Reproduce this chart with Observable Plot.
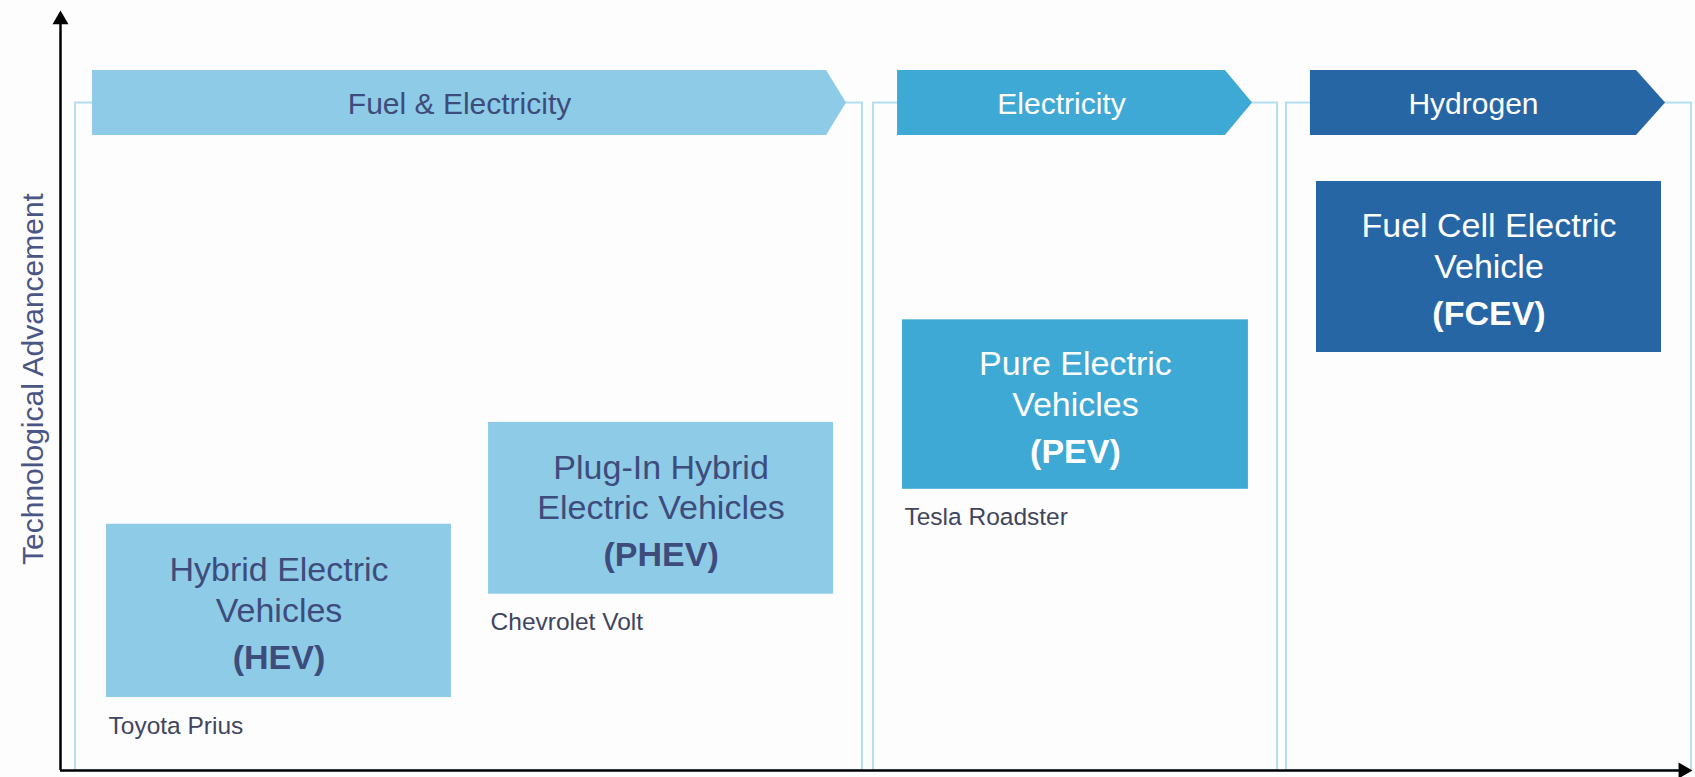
<!DOCTYPE html>
<html>
<head>
<meta charset="utf-8">
<script src="https://cdn.jsdelivr.net/npm/d3@7"></script>
<script src="https://cdn.jsdelivr.net/npm/@observablehq/plot@0.6"></script>
<style>
html, body { margin: 0; padding: 0; background: #fdfdfd; overflow: hidden; }
#chart svg { display: block; }
</style>
</head>
<body>
<div id="chart"></div>
<script>
// ---------- data (abstract units: stage 0–100 horizontally, advancement 0–100 vertically) ----------
const families = ["Fuel & Electricity", "Electricity", "Hydrogen"];
const familyStageStart = [1.96, 51.29, 76.59];
const familyStageEnd = [46.94, 71.38, 96.57];
const familyStageTip = [48.16, 73.04, 98.35];
const familyPanelStart = [0.92, 49.82, 75.12];
const familyPanelEnd = [49.14, 74.57, 99.94];
const familyBandLow = 83.55;
const familyBandHigh = 92.1;

const vehicleNames = ["Hybrid Electric\nVehicles", "Plug-In Hybrid\nElectric Vehicles", "Pure Electric\nVehicles", "Fuel Cell Electric\nVehicle"];
const vehicleCodes = ["(HEV)", "(PHEV)", "(PEV)", "(FCEV)"];
const vehicleFamily = [0, 0, 1, 2];
const vehicleExamples = ["Toyota Prius", "Chevrolet Volt", "Tesla Roadster", ""];
const vehicleStageStart = [2.82, 26.23, 51.59, 76.96];
const vehicleStageEnd = [23.96, 47.37, 72.79, 98.1];
const vehicleAdvLow = [9.6, 23.2, 37.0, 55.0];
const vehicleAdvHigh = [32.4, 45.8, 59.3, 77.5];

const axisLabelY = "Technological Advancement";

// ---------- styles ----------
const familyFill = ["#8ecbe6", "#3fa9d6", "#2766a5"];
const familyInk = ["#3e4c7c", "#ffffff", "#ffffff"];
const panelStroke = "#b3def2";
const exampleInk = "#3f4560";
const labelInk = "#4a5684";
const FONT = "'Liberation Sans', Arial, Helvetica, sans-serif";

// ---------- derived tables ----------
const bandMid = (familyBandLow + familyBandHigh) / 2;
const bandPoints = families.flatMap((f, i) => [
  {family: f, i, x: familyStageStart[i], y1: familyBandLow, y2: familyBandHigh},
  {family: f, i, x: familyStageEnd[i], y1: familyBandLow, y2: familyBandHigh},
  {family: f, i, x: familyStageTip[i], y1: bandMid, y2: bandMid}
]);
const familyRows = families.map((f, i) => ({
  family: f, i,
  x: (familyStageStart[i] + familyStageEnd[i]) / 2,
  y: bandMid,
  px1: familyPanelStart[i], px2: familyPanelEnd[i],
  py1: 0, py2: bandMid
}));
const vehicles = vehicleNames.map((n, i) => ({
  name: n, code: vehicleCodes[i], fam: vehicleFamily[i], example: vehicleExamples[i],
  x1: vehicleStageStart[i], x2: vehicleStageEnd[i],
  y1: vehicleAdvLow[i], y2: vehicleAdvHigh[i]
}));
const axisHeads = [
  {x: 0, y: 98.8, rotate: 0},
  {x: 99.43, y: 0, rotate: 90}
];

const chart = Plot.plot({
  width: 1695,
  height: 777,
  marginLeft: 60,
  marginRight: 3,
  marginTop: 10,
  marginBottom: 7,
  x: {domain: [0, 100], axis: null},
  y: {domain: [0, 100], axis: null},
  color: {type: "identity"},
  style: {background: "#fdfdfd", fontFamily: FONT},
  marks: [
    // panels
    Plot.rect(familyRows, {x1: "px1", x2: "px2", y1: "py1", y2: "py2", fill: "none", stroke: panelStroke, strokeWidth: 2}),
    // header arrows
    Plot.areaY(bandPoints, {x: "x", y1: "y1", y2: "y2", z: "family", fill: d => familyFill[d.i], curve: "linear"}),
    Plot.text(familyRows, {x: "x", y: "y", text: "family", fill: d => familyInk[d.i], fontSize: 30, lineAnchor: "middle", dy: 1}),
    // vehicle boxes
    Plot.rect(vehicles, {x1: "x1", x2: "x2", y1: "y1", y2: "y2", fill: d => familyFill[d.fam]}),
    Plot.text(vehicles, {x: d => (d.x1 + d.x2) / 2, y: d => (d.y1 + d.y2) / 2, text: "name", fill: d => familyInk[d.fam], fontSize: 34, lineHeight: 1.2, lineAnchor: "bottom", dy: 11}),
    Plot.text(vehicles, {x: d => (d.x1 + d.x2) / 2, y: d => (d.y1 + d.y2) / 2, text: "code", fill: d => familyInk[d.fam], fontSize: 34, fontWeight: "bold", lineAnchor: "bottom", dy: 58}),
    Plot.text(vehicles.filter(d => d.example), {x: "x1", y: "y1", text: "example", fill: exampleInk, fontSize: 24.5, textAnchor: "start", lineAnchor: "bottom", dx: 2, dy: 36}),
    // axes
    Plot.ruleX([0], {y1: 0, y2: 98.5, stroke: "#000", strokeWidth: 2.5}),
    Plot.ruleY([0], {x1: 0, x2: 99.2, stroke: "#000", strokeWidth: 2.5}),
    Plot.dot(axisHeads, {x: "x", y: "y", rotate: "rotate", symbol: "triangle", r: 5.94, fill: "#000", stroke: "none"}),
    Plot.text([axisLabelY], {frameAnchor: "left", text: d => d, rotate: -90, fontSize: 30, fill: labelInk, textAnchor: "middle", lineAnchor: "middle", dx: -27.6, dy: -11.5})
  ]
});
document.getElementById("chart").appendChild(chart);
</script>
</body>
</html>
